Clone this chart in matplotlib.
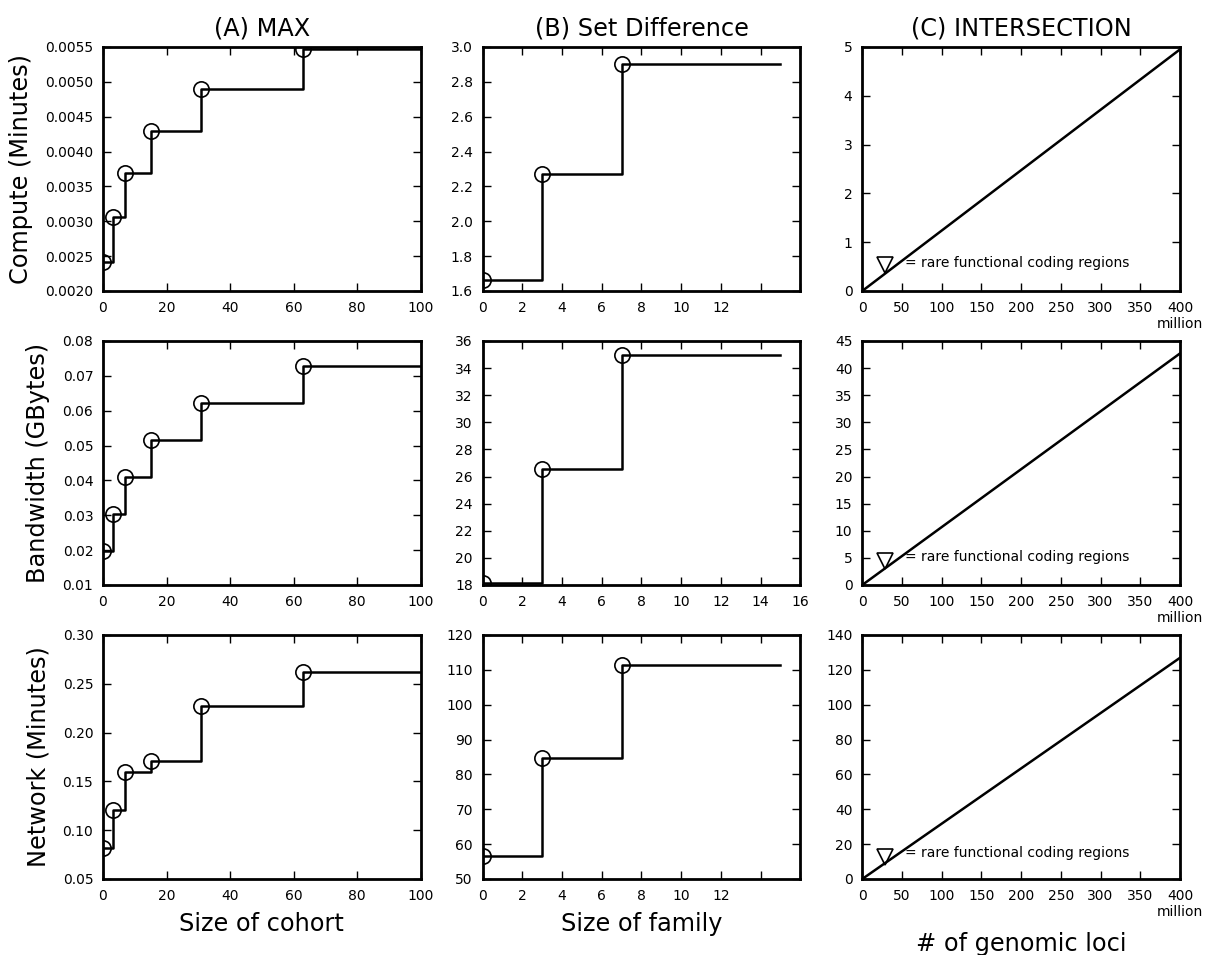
import numpy as np
import matplotlib
matplotlib.use('Agg')
import matplotlib.pyplot as plt

# column A: MAX, x = size of cohort
cohort = [0, 3, 7, 15, 31, 63]
max_compute = [0.00242, 0.00306, 0.00369, 0.00430, 0.00490, 0.00547]
max_bandwidth = [0.0197, 0.0304, 0.0410, 0.0515, 0.0621, 0.0727]
max_network = [0.0816, 0.1207, 0.1592, 0.1711, 0.2269, 0.2622]

# column B: set difference, x = size of family
family = [0, 3, 7]
sd_compute = [1.663, 2.274, 2.904]
sd_bandwidth = [18.12, 26.55, 34.95]
sd_network = [56.67, 84.57, 111.43]

# column C: intersection, x = genomic loci (millions)
loci = [0, 400]
int_compute = [0, 4.95]
int_bandwidth = [0, 42.7]
int_network = [0, 126.9]
rare_x = 29
rare_y = [0.53, 4.4, 12.6]
rare_text_y = [0.57, 5.2, 14.9]

row_labels = ['Compute (Minutes)', 'Bandwidth (GBytes)', 'Network (Minutes)']
col_titles = ['(A) MAX', '(B) Set Difference', '(C) INTERSECTION']
col_xlabels = ['Size of cohort', 'Size of family', '# of genomic loci']

a_ylims = [(0.0020, 0.0055), (0.01, 0.08), (0.05, 0.30)]
a_yticks = [np.arange(0.0020, 0.00551, 0.0005), np.arange(0.01, 0.0801, 0.01), np.arange(0.05, 0.301, 0.05)]
a_fmt = ['%.4f', '%.2f', '%.2f']
b_ylims = [(1.6, 3.0), (18, 36), (50, 120)]
b_yticks = [np.arange(1.6, 3.01, 0.2), np.arange(18, 37, 2), np.arange(50, 121, 10)]
b_fmt = ['%.1f', '%d', '%d']
c_ylims = [(0, 5), (0, 45), (0, 140)]
c_yticks = [np.arange(0, 6, 1), np.arange(0, 46, 5), np.arange(0, 141, 20)]

plt.rcParams['font.family'] = ['DejaVu Sans']

fig, axes = plt.subplots(3, 3, figsize=(12.06, 9.55), dpi=100)
fig.subplots_adjust(left=0.0854, right=0.9784, top=0.9508, bottom=0.0796,
                    wspace=0.195, hspace=0.205)

def style(ax):
    for s in ax.spines.values():
        s.set_linewidth(2)
    ax.tick_params(direction='in', top=True, right=True, length=6, width=1,
                   labelsize=10, pad=7)

max_data = [max_compute, max_bandwidth, max_network]
sd_data = [sd_compute, sd_bandwidth, sd_network]
int_data = [int_compute, int_bandwidth, int_network]

for r in range(3):
    # A
    ax = axes[r, 0]
    xs = cohort + [100]
    ys = max_data[r] + [max_data[r][-1]]
    ax.step(xs, ys, where='post', color='k', lw=1.8)
    ax.plot(cohort, max_data[r], 'o', mfc='none', mec='k', ms=11, mew=1.2)
    ax.set_xlim(0, 100)
    ax.set_ylim(*a_ylims[r])
    ax.set_xticks(range(0, 101, 20))
    ax.set_yticks(a_yticks[r])
    ax.set_yticklabels([a_fmt[r] % v for v in a_yticks[r]])
    ax.set_ylabel(row_labels[r], fontsize=17.28, labelpad=9)

    # B
    ax = axes[r, 1]
    xs = family + [15]
    ys = sd_data[r] + [sd_data[r][-1]]
    ax.step(xs, ys, where='post', color='k', lw=1.8)
    ax.plot(family, sd_data[r], 'o', mfc='none', mec='k', ms=11, mew=1.2)
    ax.set_xlim(0, 16)
    ax.set_ylim(*b_ylims[r])
    ax.set_xticks(range(0, 17, 2))
    if r == 1:
        ax.set_xticklabels([str(v) for v in range(0, 17, 2)])
    else:
        ax.set_xticklabels([str(v) for v in range(0, 13, 2)] + ['', ''])
    ax.set_yticks(b_yticks[r])
    ax.set_yticklabels([b_fmt[r] % v for v in b_yticks[r]])

    # C
    ax = axes[r, 2]
    ax.plot(loci, int_data[r], color='k', lw=1.8)
    ax.plot([rare_x], [rare_y[r]], 'v', mfc='none', mec='k', ms=12, mew=1.2)
    ax.text(54, rare_text_y[r], '= rare functional coding regions', fontsize=10, va='center')
    ax.set_xlim(0, 400)
    ax.set_ylim(*c_ylims[r])
    ax.set_xticks(range(0, 401, 50))
    ax.set_yticks(c_yticks[r])
    ax.text(1.0, -0.135, 'million', transform=ax.transAxes, fontsize=10,
            ha='center', va='center')

    for c in range(3):
        style(axes[r, c])

for c in range(3):
    axes[0, c].set_title(col_titles[c], fontsize=17.28, pad=8)
    axes[2, c].set_xlabel(col_xlabels[c], fontsize=17.28, labelpad=7)
axes[2, 2].xaxis.labelpad = 21

fig.savefig('out.png', dpi=100)
